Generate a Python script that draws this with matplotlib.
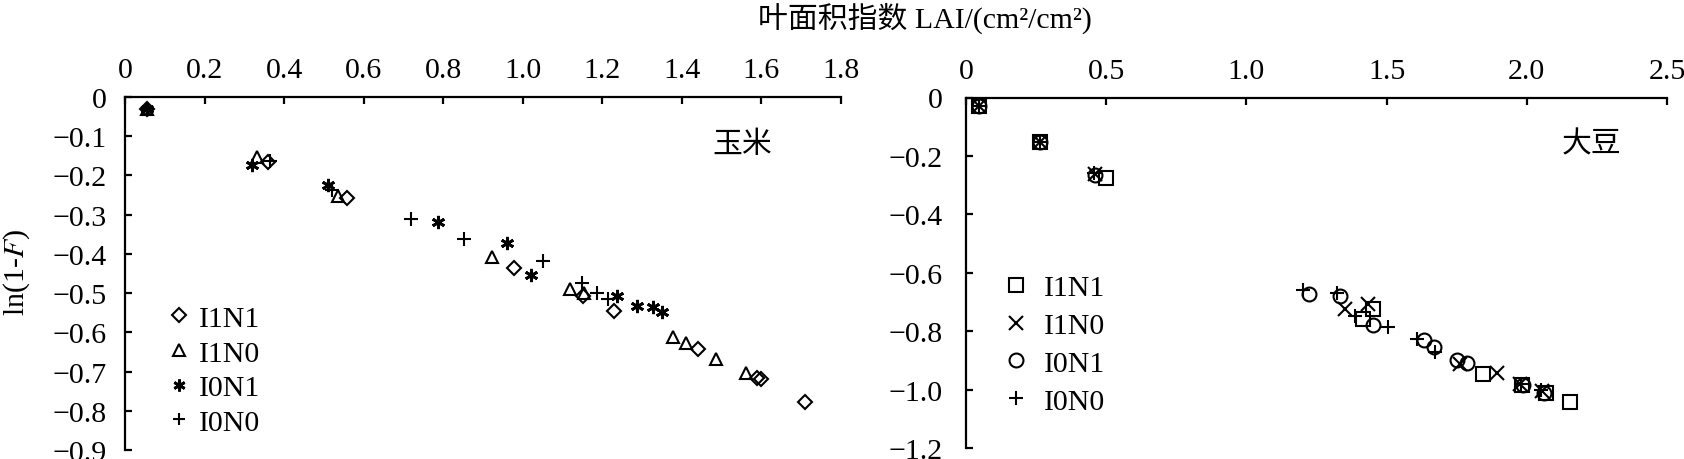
import matplotlib
matplotlib.use("Agg")
import matplotlib.pyplot as plt
from matplotlib.ticker import FixedLocator, FuncFormatter

plt.rcParams['font.family'] = ['Liberation Serif', 'Noto Sans CJK SC']
plt.rcParams['mathtext.fontset'] = 'stix'
plt.rcParams['axes.unicode_minus'] = True

# ---------------- data: maize (玉米) ----------------
maize_labels = ["I1N1", "I1N0", "I0N1", "I0N0"]
maize_I1N1_x = [0.056, 0.36, 0.559, 0.978, 1.151, 1.229, 1.441, 1.588, 1.600, 1.709]
maize_I1N1_y = [-0.030, -0.165, -0.258, -0.437, -0.508, -0.545, -0.643, -0.717, -0.720, -0.778]
maize_I1N0_x = [0.056, 0.331, 0.536, 0.922, 1.119, 1.155, 1.378, 1.410, 1.487, 1.561]
maize_I1N0_y = [-0.030, -0.154, -0.252, -0.409, -0.490, -0.500, -0.613, -0.627, -0.668, -0.704]
maize_I0N1_x = [0.056, 0.320, 0.511, 0.788, 0.961, 1.020, 1.238, 1.286, 1.328, 1.349]
maize_I0N1_y = [-0.030, -0.173, -0.224, -0.318, -0.373, -0.454, -0.507, -0.534, -0.536, -0.549]
maize_I0N0_x = [0.056, 0.365, 0.520, 0.718, 0.851, 1.050, 1.148, 1.186, 1.215]
maize_I0N0_y = [-0.030, -0.163, -0.236, -0.311, -0.362, -0.417, -0.473, -0.500, -0.515]

# ---------------- data: soybean (大豆) ----------------
soy_labels = ["I1N1", "I1N0", "I0N1", "I0N0"]
soy_I1N1_x = [0.046, 0.264, 0.498, 1.415, 1.453, 1.843, 1.982, 2.070, 2.154]
soy_I1N1_y = [-0.030, -0.153, -0.275, -0.757, -0.725, -0.945, -0.983, -1.012, -1.041]
soy_I1N0_x = [0.046, 0.264, 0.460, 1.352, 1.435, 1.762, 1.895, 1.975, 2.055]
soy_I1N0_y = [-0.030, -0.153, -0.262, -0.723, -0.706, -0.911, -0.942, -0.980, -1.005]
soy_I0N1_x = [0.046, 0.264, 0.460, 1.224, 1.334, 1.453, 1.633, 1.669, 1.750, 1.786, 1.985, 2.060]
soy_I0N1_y = [-0.030, -0.153, -0.265, -0.672, -0.680, -0.778, -0.831, -0.854, -0.900, -0.908, -0.985, -1.010]
soy_I0N0_x = [0.046, 0.264, 0.455, 1.201, 1.322, 1.387, 1.506, 1.607, 1.673, 1.980, 2.050]
soy_I0N0_y = [-0.030, -0.153, -0.260, -0.660, -0.668, -0.748, -0.786, -0.828, -0.871, -0.980, -1.000]

maize_xticks = [0, 0.2, 0.4, 0.6, 0.8, 1.0, 1.2, 1.4, 1.6, 1.8]
maize_yticks = [0, -0.1, -0.2, -0.3, -0.4, -0.5, -0.6, -0.7, -0.8, -0.9]
soy_xticks = [0, 0.5, 1.0, 1.5, 2.0, 2.5]
soy_yticks = [0, -0.2, -0.4, -0.6, -0.8, -1.0, -1.2]

title = "叶面积指数 LAI/(cm²/cm²)"
ylabel = "ln(1-$F$)"

W, H = 1684, 460
fig = plt.figure(figsize=(W / 100, H / 100), dpi=100)

FS = 21.5


def fmt(v, pos=None):
    if abs(v) < 1e-9:
        return "0"
    return ("%.1f" % v).replace("-", "\u2212")


def style_axes(ax, xticks, yticks, ypad):
    ax.set_xlim(xticks[0], xticks[-1])
    ax.set_ylim(yticks[-1], yticks[0])
    ax.xaxis.set_major_locator(FixedLocator(xticks))
    ax.yaxis.set_major_locator(FixedLocator(yticks))
    ax.xaxis.set_major_formatter(FuncFormatter(fmt))
    ax.yaxis.set_major_formatter(FuncFormatter(fmt))
    ax.xaxis.tick_top()
    for s in ["right", "bottom"]:
        ax.spines[s].set_visible(False)
    for s in ["left", "top"]:
        ax.spines[s].set_linewidth(1.6)
    ax.tick_params(axis="both", direction="in", length=5, width=1.6,
                   labelsize=FS)
    ax.tick_params(axis="x", pad=10)
    ax.tick_params(axis="y", pad=ypad)
    ax.patch.set_visible(False)


mk = dict(color="black", linestyle="none", markerfacecolor="none",
          markeredgecolor="black", markeredgewidth=1.5, clip_on=False)

# ---------- maize ----------
ax1 = fig.add_axes([125 / W, 1 - 451 / H, (841 - 125) / W, (451 - 98) / H])
style_axes(ax1, maize_xticks, maize_yticks, 13)
ax1.plot(maize_I1N1_x, maize_I1N1_y, marker="D", markersize=7.5, label=maize_labels[0], **mk)
ax1.plot(maize_I1N0_x, maize_I1N0_y, marker="^", markersize=9, label=maize_labels[1], **mk)
mk_ast = dict(mk)
mk_ast["markeredgewidth"] = 2.0
ax1.plot(maize_I0N1_x, maize_I0N1_y, marker=(6, 2, 0), markersize=9.5, label=maize_labels[2], **mk_ast)
ax1.plot(maize_I0N0_x, maize_I0N0_y, marker="+", markersize=9.5, label=maize_labels[3], **mk)
ax1.text(0.862, 0.867, "玉米", transform=ax1.transAxes, ha="center", va="center", fontsize=FS)
ax1.legend(loc="center left", bbox_to_anchor=(170 / W, 1 - 371.5 / H),
           bbox_transform=fig.transFigure, frameon=False, fontsize=FS,
           handlelength=0.6, handletextpad=0.37, labelspacing=0.26,
           borderpad=0, borderaxespad=0, markerscale=0.9)

# ---------- soybean ----------
ax2 = fig.add_axes([966 / W, 1 - 449 / H, (1667 - 966) / W, (449 - 98.5) / H])
style_axes(ax2, soy_xticks, soy_yticks, 16.5)
ax2.plot(soy_I1N1_x, soy_I1N1_y, marker="s", markersize=10.5, label=soy_labels[0], **mk)
ax2.plot(soy_I1N0_x, soy_I1N0_y, marker="x", markersize=10.5, label=soy_labels[1], **mk)
ax2.plot(soy_I0N1_x, soy_I0N1_y, marker="o", markersize=10, label=soy_labels[2], **mk)
ax2.plot(soy_I0N0_x, soy_I0N0_y, marker="+", markersize=10.5, label=soy_labels[3], **mk)
ax2.text(0.893, 0.867, "大豆", transform=ax2.transAxes, ha="center", va="center", fontsize=FS)
ax2.legend(loc="center left", bbox_to_anchor=(1007 / W, 1 - 345.5 / H),
           bbox_transform=fig.transFigure, frameon=False, fontsize=FS,
           handlelength=0.6, handletextpad=0.63, labelspacing=0.37,
           borderpad=0, borderaxespad=0, markerscale=1.0)

fig.text(925 / W, 1 - 18 / H, title, ha="center", va="center", fontsize=FS)
fig.text(17 / W, 1 - 272 / H, ylabel, ha="center", va="center", rotation=90, fontsize=FS)

fig.savefig("out.png", dpi=100)
